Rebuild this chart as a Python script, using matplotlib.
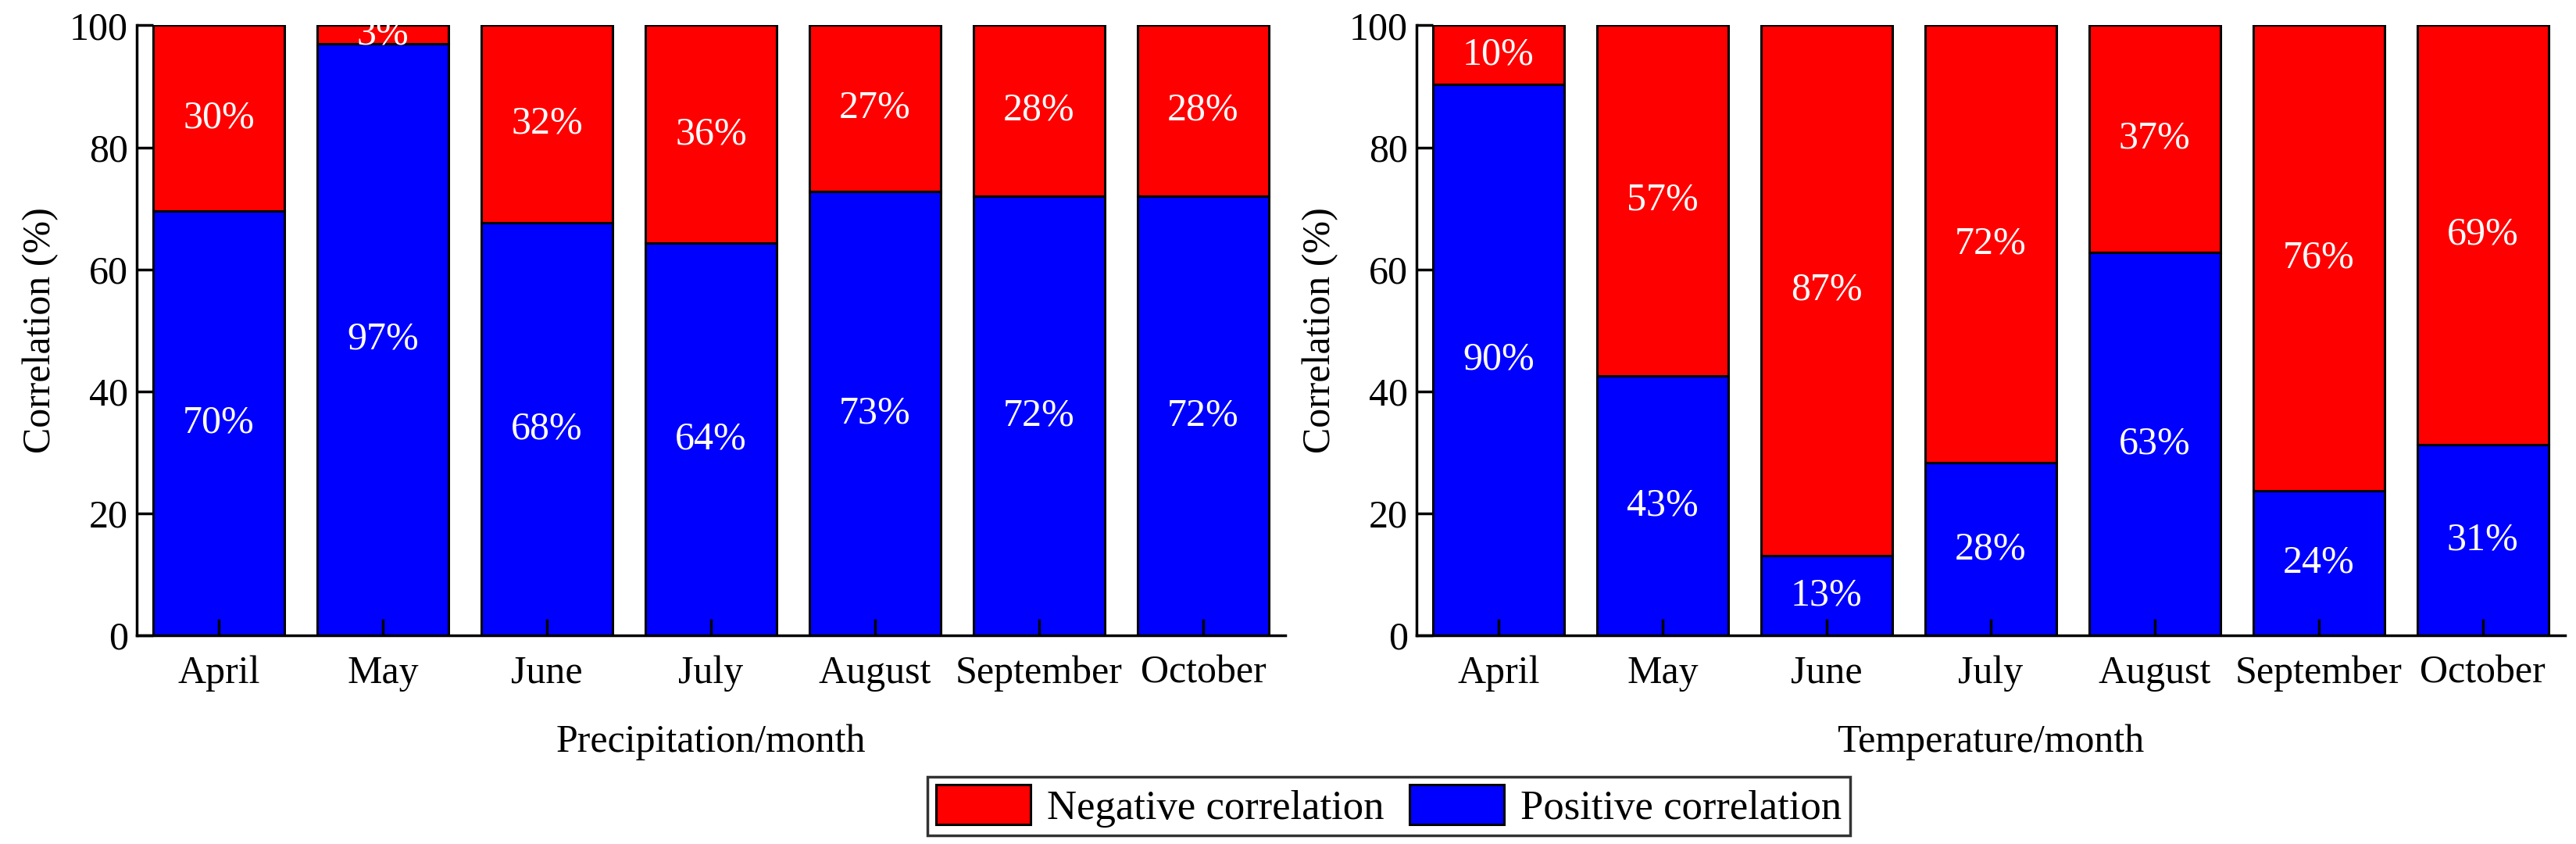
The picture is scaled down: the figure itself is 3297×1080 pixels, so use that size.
import matplotlib.pyplot as plt
import numpy as np
from matplotlib.patches import Patch

plt.rcParams['font.family'] = ['Liberation Serif', 'DejaVu Serif']

# data
months = ['April', 'May', 'June', 'July', 'August', 'September', 'October']
precip_pos = [69.6, 97.0, 67.7, 64.3, 72.8, 72.0, 72.0]
temp_pos = [90.3, 42.6, 13.1, 28.3, 62.8, 23.7, 31.3]
xlabels = ['Precipitation/month', 'Temperature/month']

FS = 36
fig = plt.figure(figsize=(32.98, 10.8), dpi=100)
ax1 = fig.add_axes([0.0531, 0.247, 0.4457, 0.723])
ax2 = fig.add_axes([0.5497, 0.247, 0.4457, 0.723])

x = np.arange(len(months))
for ax, pos, xl in zip([ax1, ax2], [precip_pos, temp_pos], xlabels):
    pos = np.array(pos)
    neg = 100 - pos
    ax.bar(x, pos, width=0.8, color='#0000FF', edgecolor='black', linewidth=2.2)
    ax.bar(x, neg, width=0.8, bottom=pos, color='#FF0000', edgecolor='black', linewidth=2.2)
    for xi, p, n in zip(x, pos, neg):
        ax.text(xi, p / 2, f'{round(p)}%', ha='center', va='center', color='white', fontsize=FS)
        ax.text(xi, p + n / 2, f'{round(n)}%', ha='center', va='center', color='white', fontsize=FS)

    ax.set_xlim(-0.5, 6.5)
    ax.set_ylim(0, 100)
    ax.set_yticks(np.arange(0, 101, 20))
    ax.set_xticks(x)
    ax.set_xticklabels(months)
    ax.spines['top'].set_visible(False)
    ax.spines['right'].set_visible(False)
    for s in ['left', 'bottom']:
        ax.spines[s].set_linewidth(2.5)
    ax.tick_params(axis='both', direction='in', labelsize=FS, width=2.5, length=15)
    ax.tick_params(axis='x', pad=18)
    ax.tick_params(axis='y', pad=8)
    ax.set_xlabel(xl, fontsize=FS, labelpad=30)
    ax.set_ylabel('Correlation (%)', fontsize=FS, labelpad=10)

handles = [Patch(facecolor='#FF0000', edgecolor='black', linewidth=2.2, label='Negative correlation'),
           Patch(facecolor='#0000FF', edgecolor='black', linewidth=2.2, label='Positive correlation')]
leg = fig.legend(handles=handles, loc='center', bbox_to_anchor=(0.539, 0.045), ncol=2,
                 fontsize=38, frameon=True, fancybox=False, edgecolor='black',
                 handlelength=2.3, handleheight=1.1, handletextpad=0.4, columnspacing=0.6,
                 borderpad=0.2, borderaxespad=0)
leg.get_frame().set_linewidth(2.5)

fig.savefig('out.png', dpi=100)
